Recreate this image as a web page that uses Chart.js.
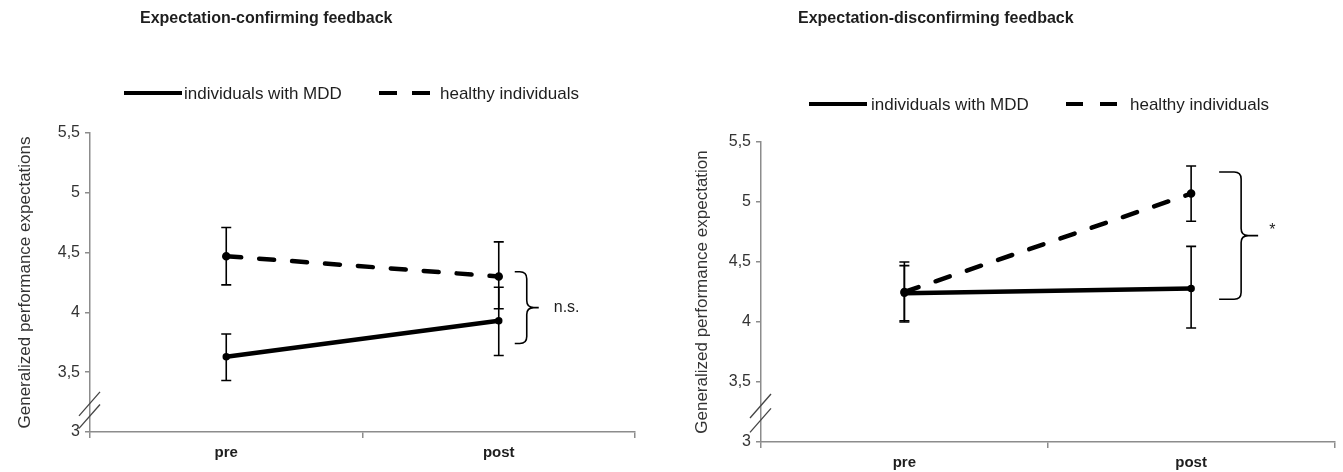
<!DOCTYPE html>
<html>
<head>
<meta charset="utf-8">
<script src="https://cdn.jsdelivr.net/npm/chart.js@4.4.1/dist/chart.umd.min.js"></script>
<style>
  html, body { margin: 0; padding: 0; background: #fff; }
  #wrap { position: relative; width: 1343px; height: 472px; }
  canvas { position: absolute; top: 0; }
</style>
</head>
<body>
<div id="wrap">
  <canvas id="chartConfirm" width="672" height="472" style="left:0"></canvas>
  <canvas id="chartDisconfirm" width="671" height="472" style="left:672px"></canvas>
</div>
<script>
// data
const categories = ['pre', 'post']
const yTicks = [3, 3.5, 4, 4.5, 5, 5.5]
const seriesNames = ['individuals with MDD', 'healthy individuals']

const confMDD = [3.63, 3.93]
const confMDDLow = [3.43, 3.64]
const confMDDHigh = [3.82, 4.21]
const confHealthy = [4.47, 4.30]
const confHealthyLow = [4.23, 4.03]
const confHealthyHigh = [4.71, 4.59]
const confBracket = [3.74, 4.34]

const discMDD = [4.24, 4.28]
const discMDDLow = [4.00, 3.95]
const discMDDHigh = [4.47, 4.63]
const discHealthy = [4.25, 5.07]
const discHealthyLow = [4.01, 4.84]
const discHealthyHigh = [4.50, 5.30]
const discBracket = [4.19, 5.25]

const FONT = '"Liberation Sans", Arial, sans-serif'
const AXIS = '#8c8c8c'
const INK = '#1e1e1e'

// title, legend, error bars, bracket and axis break
const decorations = {
    id: 'decorations',
    afterDraw(chart, args, opts) {
        const {ctx, chartArea, scales: {x, y}} = chart
        ctx.save()
        ctx.fillStyle = INK
        ctx.strokeStyle = '#000'
        ctx.textBaseline = 'middle'

        ctx.font = 'bold 16px ' + FONT
        ctx.fillText(opts.title, opts.titleX, 19)

        // legend
        const lg = opts.legend
        ctx.lineWidth = 4
        ctx.beginPath()
        ctx.moveTo(lg.solid[0], lg.y)
        ctx.lineTo(lg.solid[1], lg.y)
        ctx.stroke()
        ctx.setLineDash([lg.dash, lg.gap])
        ctx.beginPath()
        ctx.moveTo(lg.dashed[0], lg.y)
        ctx.lineTo(lg.dashed[1], lg.y)
        ctx.stroke()
        ctx.setLineDash([])
        ctx.font = '17px ' + FONT
        ctx.fillText(seriesNames[0], lg.text[0], lg.y + 1)
        ctx.fillText(seriesNames[1], lg.text[1], lg.y + 1)

        // error bars
        ctx.lineWidth = 1.6
        chart.data.datasets.forEach(ds => {
            ds.errLow.forEach((lo, i) => {
                const px = x.getPixelForValue(i)
                const top = y.getPixelForValue(ds.errHigh[i])
                const bot = y.getPixelForValue(lo)
                ctx.beginPath()
                ctx.moveTo(px, top); ctx.lineTo(px, bot)
                ctx.moveTo(px - 5, top); ctx.lineTo(px + 5, top)
                ctx.moveTo(px - 5, bot); ctx.lineTo(px + 5, bot)
                ctx.stroke()
            })
        })

        // bracket next to "post"
        const b = opts.bracket
        const px = x.getPixelForValue(1)
        const yt = y.getPixelForValue(b.range[1])
        const yb = y.getPixelForValue(b.range[0])
        const ym = (yt + yb) / 2
        const x0 = px + b.dx[0], x1 = px + b.dx[1], x2 = px + b.dx[2]
        const r = 7
        ctx.lineWidth = 1.6
        ctx.beginPath()
        ctx.moveTo(x0, yt)
        ctx.lineTo(x1 - r, yt)
        ctx.quadraticCurveTo(x1, yt, x1, yt + r)
        ctx.lineTo(x1, ym - r)
        ctx.quadraticCurveTo(x1, ym, x1 + r, ym)
        ctx.lineTo(x2, ym)
        ctx.moveTo(x1 + r, ym)
        ctx.quadraticCurveTo(x1, ym, x1, ym + r)
        ctx.lineTo(x1, yb - r)
        ctx.quadraticCurveTo(x1, yb, x1 - r, yb)
        ctx.lineTo(x0, yb)
        ctx.stroke()
        ctx.font = '16px ' + FONT
        ctx.fillText(b.label, px + b.dx[3], ym + b.labelDy)

        // axis break marks
        ctx.strokeStyle = '#444'
        ctx.lineWidth = 1.3
        opts.breaks.forEach(v => {
            ctx.beginPath()
            ctx.moveTo(chartArea.left - 11, y.getPixelForValue(v - 0.1))
            ctx.lineTo(chartArea.left + 10, y.getPixelForValue(v + 0.1))
            ctx.stroke()
        })
        ctx.restore()
    }
}

const makeChart = (id, c) => new Chart(document.getElementById(id), {
    type: 'line',
    data: {
        labels: categories,
        datasets: [{
            label: seriesNames[0],
            data: c.mdd,
            errLow: c.mddLow,
            errHigh: c.mddHigh,
            borderColor: '#000',
            backgroundColor: '#000',
            borderWidth: 4.5,
            pointRadius: 1.5,
            tension: 0
        }, {
            label: seriesNames[1],
            data: c.healthy,
            errLow: c.healthyLow,
            errHigh: c.healthyHigh,
            borderColor: '#000',
            backgroundColor: '#000',
            borderWidth: 4.5,
            borderDash: [15, 18],
            borderCapStyle: 'round',
            pointRadius: 2,
            tension: 0
        }]
    },
    options: {
        responsive: false,
        animation: false,
        layout: {padding: {top: c.top, right: c.right, left: 0, bottom: 0}},
        plugins: {
            legend: {display: false},
            tooltip: {enabled: false},
            decorations: c.deco
        },
        scales: {
            x: {
                offset: true,
                afterFit: s => { s.height = c.xHeight },
                grid: {offset: true, drawOnChartArea: false, tickLength: 6, color: AXIS, lineWidth: 1.5},
                border: {color: AXIS, width: 1.5},
                ticks: {color: INK, padding: 6, font: {family: FONT, size: 15, weight: 'bold'}}
            },
            y: {
                min: 3,
                max: 5.5,
                afterFit: s => { s.width = c.yWidth },
                afterBuildTicks: s => { s.ticks = yTicks.map(v => ({value: v})) },
                grid: {drawOnChartArea: false, tickLength: 5, color: AXIS, lineWidth: 1.5},
                border: {color: AXIS, width: 1.5},
                ticks: {
                    color: '#333',
                    padding: 5,
                    font: {family: FONT, size: 16},
                    callback: v => String(v).replace('.', ',')
                },
                title: {
                    display: true,
                    text: c.yTitle,
                    color: '#333',
                    padding: {top: c.yTitlePad, bottom: 0},
                    font: {family: FONT, size: 17}
                }
            }
        }
    },
    plugins: [decorations]
})

makeChart('chartConfirm', {
    mdd: confMDD, mddLow: confMDDLow, mddHigh: confMDDHigh,
    healthy: confHealthy, healthyLow: confHealthyLow, healthyHigh: confHealthyHigh,
    top: 133, right: 37, xHeight: 40, yWidth: 90, yTitlePad: 15,
    yTitle: 'Generalized performance expectations',
    deco: {
        title: 'Expectation-confirming feedback', titleX: 140,
        legend: {y: 93, solid: [124, 182], dashed: [379, 431], dash: 18, gap: 15, text: [184, 440]},
        bracket: {range: confBracket, dx: [16, 28, 40, 55], label: 'n.s.', labelDy: 0},
        breaks: [3.13, 3.235]
    }
})

makeChart('chartDisconfirm', {
    mdd: discMDD, mddLow: discMDDLow, mddHigh: discMDDHigh,
    healthy: discHealthy, healthyLow: discHealthyLow, healthyHigh: discHealthyHigh,
    top: 142, right: 4, xHeight: 30, yWidth: 89, yTitlePad: 20,
    yTitle: 'Generalized performance expectation',
    deco: {
        title: 'Expectation-disconfirming feedback', titleX: 126,
        legend: {y: 104, solid: [137, 195], dashed: [394, 445], dash: 17, gap: 17, text: [199, 458]},
        bracket: {range: discBracket, dx: [28, 50, 67, 78], label: '*', labelDy: -5},
        breaks: [3.18, 3.3]
    }
})
</script>
</body>
</html>
